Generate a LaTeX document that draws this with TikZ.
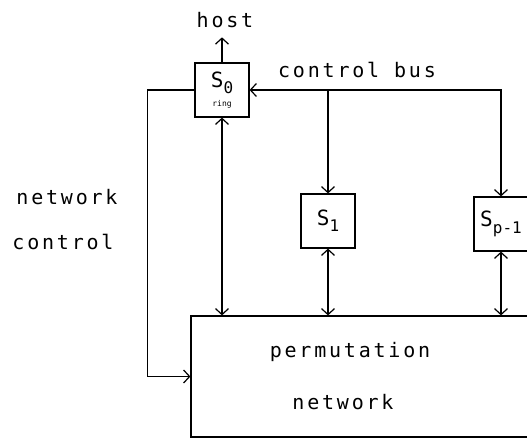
\documentclass[tikz,border=0pt]{standalone}
\usepackage{fontspec}
\newfontfamily\plotfont{DejaVu Sans Mono}[LetterSpace=14]
\newfontfamily\stnfont{DejaVu Sans Mono}
\usetikzlibrary{arrows.meta,positioning}

% station name with a lowered index
\newcommand{\stn}[1]{S\raisebox{-0.3em}{\fontsize{16}{16}\selectfont #1}}

\begin{document}
\begin{tikzpicture}[x=1pt,y=-1pt,line width=1.2pt,
  >={Straight Barb[length=6pt,width=13pt]},
  station/.style={draw,minimum width=54pt,minimum height=54pt,inner sep=0pt,
    align=center,font=\stnfont\fontsize{21}{21}\selectfont},
  lbl/.style={inner sep=1pt,font=\plotfont\fontsize{20}{22}\selectfont}]
  \useasboundingbox (0,0) rectangle (527,444);
  \clip (0,0) rectangle (527,444);

  % stations and the network
  \node[station] (s0) at (222,90)
    {\stn{0}\\[-2pt]{\fontsize{8}{8}\selectfont ring}};
  \node[station] (s1) at (328,221) {\stn{1}};
  \node[station] (sp) at (501,224) {\stn{p-1}};
  \node[draw,minimum width=339pt,minimum height=121pt] (net) at (360.5,376.5) {};
  \node[lbl] (perm) at (350,352) {permutation};
  \node[lbl] (netw) at (343,402) {network};

  % labels
  \node[lbl] (host) at (225,20) {host};
  \node[lbl] (bus) at (357,70) {control bus};
  \node[lbl] (ncl1) at (67,197) {network};
  \node[lbl] (ncl2) at (63,242) {control};

  % control bus
  \draw[->] (s0.north) -- ([yshift=-8pt]s0.north |- host.south);
  \draw[<->] (s0.east) -| (sp.north);
  \draw[->] (s1.north |- s0.east) -- (s1.north);

  % links to the network
  \draw[<->] (s0.south) -- (s0.south |- net.north);
  \draw[<->] (s1.south) -- (s1.south |- net.north);
  \draw[<->] (sp.south) -- (sp.south |- net.north);
  \draw[->] (s0.west) -- ++(-47,0) |- (net.west);
\end{tikzpicture}
\end{document}
